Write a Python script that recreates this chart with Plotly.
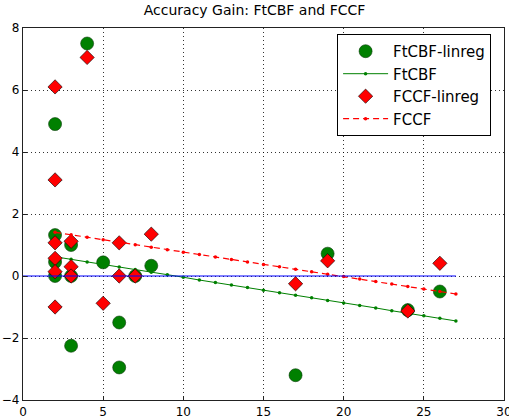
import plotly.graph_objects as go

# FtCBF-linreg scatter points
ftcbf_x = [4, 2, 2, 2, 2, 3, 3, 3, 5, 6, 6, 7, 8, 17, 19, 24, 26]
ftcbf_y = [7.5, 4.9, 1.32, 0.45, 0.0, 1.0, 0.0, -2.25, 0.44, -1.5, -2.95, 0.0, 0.33, -3.2, 0.72, -1.1, -0.5]

# FCCF-linreg scatter points
fccf_x = [2, 2, 2, 2, 2, 2, 3, 3, 3, 4, 5, 6, 6, 7, 8, 17, 19, 24, 26]
fccf_y = [6.1, 3.1, 1.07, 0.57, 0.14, -1.0, 1.12, 0.3, 0.0, 7.05, -0.88, 1.07, 0.0, 0.0, 1.35, -0.25, 0.49, -1.13, 0.41]

# Fitted lines
line_x = list(range(2, 28))
ftcbf_line = [0.62, 0.54, 0.45, 0.37, 0.29, 0.21, 0.12, 0.04, -0.04, -0.13, -0.21, -0.29, -0.37,
              -0.46, -0.54, -0.62, -0.70, -0.79, -0.87, -0.95, -1.03, -1.12, -1.20, -1.28, -1.36, -1.45]
fccf_line = [1.41, 1.33, 1.25, 1.17, 1.09, 1.01, 0.93, 0.85, 0.77, 0.69, 0.61, 0.53, 0.45,
             0.37, 0.30, 0.22, 0.14, 0.06, -0.02, -0.10, -0.18, -0.26, -0.34, -0.42, -0.50, -0.58]

zero_x = [0, 27]
zero_y = [0, 0]

x_ticks = [0, 5, 10, 15, 20, 25, 30]
y_ticks = [-4, -2, 0, 2, 4, 6, 8]

FONT = "DejaVu Sans"

fig = go.Figure()
fig.add_trace(go.Scatter(x=ftcbf_x, y=ftcbf_y, mode="markers", name="FtCBF-linreg",
                         marker=dict(symbol="circle", size=13, color="#008000",
                                     line=dict(color="#0a3a0a", width=0.6))))
fig.add_trace(go.Scatter(x=line_x, y=ftcbf_line, mode="lines+markers", name="FtCBF",
                         line=dict(color="#008000", width=1),
                         marker=dict(size=3.5, color="#008000")))
fig.add_trace(go.Scatter(x=fccf_x, y=fccf_y, mode="markers", name="FCCF-linreg",
                         marker=dict(symbol="diamond", size=11, color="#ff0000",
                                     line=dict(color="#000000", width=0.6))))
fig.add_trace(go.Scatter(x=line_x, y=fccf_line, mode="lines+markers", name="FCCF",
                         line=dict(color="#ff0000", width=1.2, dash="6px,4px"),
                         marker=dict(size=3.5, color="#ff0000")))
fig.add_trace(go.Scatter(x=zero_x, y=zero_y, mode="lines", showlegend=False,
                         line=dict(color="#0000ff", width=1.2)))

axis_common = dict(showline=True, linecolor="#222222", linewidth=1.3, mirror=True,
                   showgrid=True, gridcolor="rgba(0,0,0,0.8)", griddash="1px,3px", gridwidth=1,
                   zeroline=False, ticks="inside", ticklen=4, tickcolor="#222222",
                   automargin=False, ticklabeloverflow="allow",
                   tickfont=dict(family=FONT, size=12, color="black"))

fig.update_xaxes(range=[0, 30], tickvals=x_ticks, ticklabelstandoff=0, **axis_common)
fig.update_yaxes(range=[-4, 8], tickvals=y_ticks, ticklabelstandoff=0, **axis_common)

fig.update_layout(
    width=509, height=418,
    margin=dict(l=23, r=5, t=28, b=18, autoexpand=False),
    paper_bgcolor="white", plot_bgcolor="white",
    font=dict(family=FONT, size=12, color="black"),
    title=dict(text="Accuracy Gain: FtCBF and FCCF", x=0.5, xanchor="center",
               y=0.988, yanchor="top", font=dict(family=FONT, size=14, color="black")),
    legend=dict(x=0.653, y=0.984, xanchor="left", yanchor="top",
                bgcolor="white", bordercolor="black", borderwidth=1,
                font=dict(family=FONT, size=15, color="black"),
                tracegroupgap=0, itemwidth=45),
)

fig.write_html("out.html")
